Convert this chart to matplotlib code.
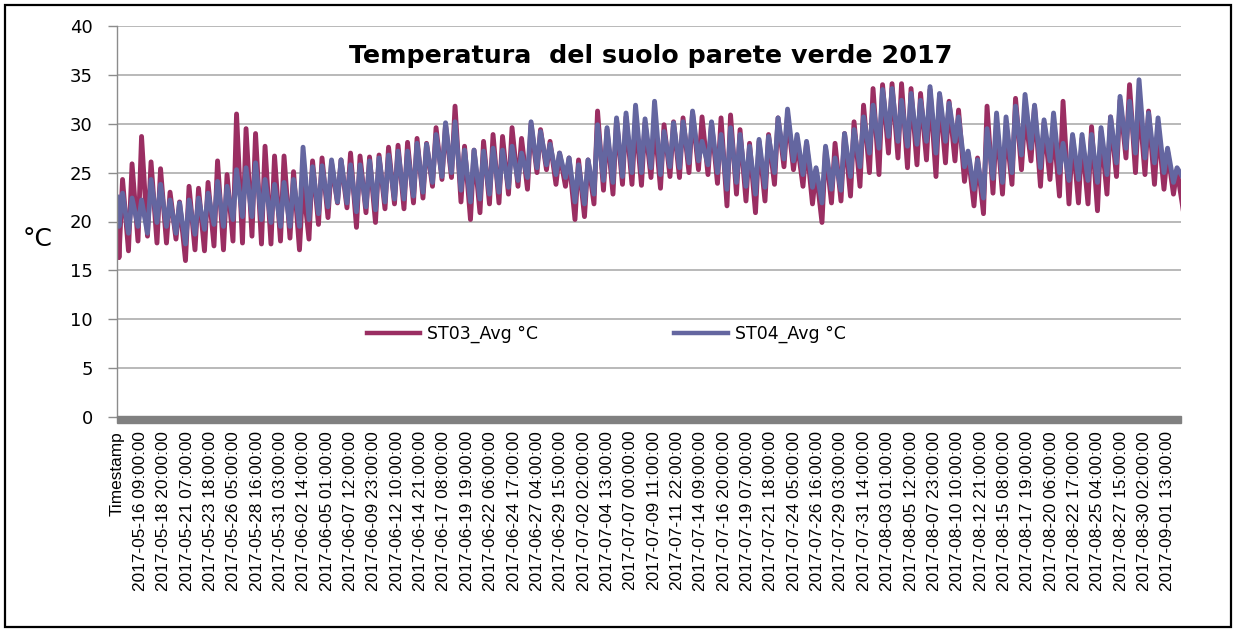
import matplotlib
matplotlib.use("Agg")
import matplotlib.pyplot as plt
from matplotlib.patches import Rectangle
import numpy as np

# ---------------- data (daily extremes) ----------------
ST03_MAX = [24.3, 25.9, 28.7, 26.1, 25.4, 23.0, 22.0, 23.6, 23.4, 24.0,
            26.2, 24.8, 31.0, 29.5, 29.0, 27.7, 26.7, 26.7, 25.1, 24.0,
            26.2, 26.5, 26.0, 26.3, 27.0, 26.7, 26.6, 26.8, 27.6, 27.8,
            28.1, 28.5, 28.0, 29.6, 29.9, 31.8, 27.7, 27.3, 28.2, 28.9,
            28.7, 29.6, 28.5, 30.0, 29.4, 28.2, 27.0, 26.5, 26.3, 26.3,
            31.3, 29.4, 30.4, 30.7, 30.5, 30.1, 30.2, 29.9, 30.2, 30.6,
            31.1, 30.7, 30.1, 30.6, 30.9, 29.4, 28.0, 28.2, 28.9, 30.6,
            30.9, 28.2, 28.0, 25.3, 27.5, 28.0, 29.0, 30.2, 31.9, 33.6,
            34.0, 34.1, 34.1, 33.6, 33.1, 33.5, 33.0, 32.3, 31.4, 27.0,
            26.5, 31.8, 30.2, 29.6, 32.6, 31.1, 31.8, 30.1, 29.6, 32.3,
            28.7, 28.5, 29.7, 29.2, 30.7, 32.4, 34.0, 32.3, 31.3, 29.7,
            27.2, 25.3]
ST03_MIN = [16.3, 17.0, 18.0, 18.5, 17.8, 17.8, 18.2, 16.0, 17.1, 17.0,
            17.5, 17.1, 18.0, 17.8, 18.5, 17.7, 17.7, 18.0, 18.3, 17.1,
            18.2, 19.7, 20.4, 21.9, 21.4, 19.4, 20.9, 19.9, 21.3, 21.8,
            21.3, 21.9, 22.4, 23.6, 24.3, 24.5, 22.0, 20.2, 20.9, 21.8,
            21.9, 22.8, 23.6, 23.3, 25.0, 25.3, 23.8, 23.6, 20.2, 20.5,
            21.8, 23.2, 22.8, 23.8, 23.8, 23.7, 24.5, 23.4, 24.6, 24.5,
            25.0, 25.3, 24.8, 23.9, 21.6, 22.8, 22.1, 20.9, 22.1, 23.8,
            25.6, 25.3, 23.6, 21.8, 19.9, 21.9, 22.1, 22.6, 23.6, 25.0,
            24.8, 27.0, 26.5, 25.5, 25.8, 26.3, 24.6, 26.0, 26.2, 24.1,
            21.6, 20.8, 22.9, 22.8, 23.8, 25.3, 26.2, 23.6, 24.3, 22.6,
            21.8, 21.9, 21.8, 21.1, 22.8, 24.6, 26.5, 25.0, 24.8, 23.8,
            23.3, 22.8, 21.3]
ST04_MAX = [22.9, 22.4, 22.2, 24.3, 23.8, 22.2, 21.9, 22.2, 22.4, 22.9,
            24.1, 23.6, 25.3, 25.5, 26.0, 24.3, 23.8, 24.0, 24.3, 27.6,
            25.6, 25.7, 26.3, 26.3, 25.8, 25.8, 26.2, 26.5, 26.8, 27.2,
            27.2, 28.0, 27.9, 28.9, 30.1, 30.2, 27.3, 27.3, 27.2, 27.5,
            27.3, 27.7, 27.0, 30.2, 29.2, 27.9, 27.0, 26.5, 25.8, 26.3,
            29.9, 29.6, 30.6, 31.1, 31.9, 30.5, 32.3, 29.2, 30.1, 30.2,
            31.3, 28.2, 30.2, 28.9, 29.6, 28.9, 27.7, 28.4, 28.7, 30.6,
            31.5, 28.9, 28.2, 25.5, 27.7, 26.5, 29.0, 29.4, 30.7, 31.9,
            33.5, 33.6, 32.4, 33.1, 32.4, 33.8, 33.1, 32.1, 30.7, 27.2,
            26.3, 29.5, 31.1, 30.7, 31.8, 33.0, 31.9, 30.4, 31.1, 28.0,
            28.9, 28.9, 28.9, 29.6, 30.7, 32.8, 32.3, 34.5, 31.1, 30.6,
            27.5, 25.5]
ST04_MIN = [19.5, 18.8, 19.5, 18.8, 19.9, 19.5, 18.8, 17.7, 18.7, 19.2,
            19.7, 19.5, 20.2, 20.5, 20.5, 20.2, 19.9, 19.5, 19.5, 19.5,
            20.2, 20.8, 21.5, 22.0, 21.9, 21.0, 21.5, 21.2, 22.0, 22.3,
            22.3, 22.6, 23.0, 24.0, 24.6, 25.0, 23.2, 22.0, 22.3, 22.8,
            23.0, 23.5, 24.2, 24.5, 25.5, 25.8, 24.8, 24.5, 22.0, 21.8,
            22.8, 24.2, 24.0, 24.6, 25.0, 25.0, 25.5, 24.8, 25.6, 25.5,
            26.0, 26.2, 25.8, 25.0, 23.3, 24.0, 23.6, 22.8, 23.5, 25.0,
            26.4, 26.2, 24.8, 23.5, 21.9, 23.3, 23.2, 24.6, 25.6, 27.0,
            27.5, 28.7, 28.2, 27.7, 27.9, 28.2, 27.0, 28.2, 28.2, 25.6,
            23.3, 22.4, 24.4, 24.0, 25.0, 26.8, 27.5, 25.5, 26.2, 25.0,
            24.2, 24.3, 24.2, 24.0, 24.8, 26.0, 27.5, 27.0, 26.5, 26.0,
            25.0, 24.0, 24.5]
ST03_START = 21.5
ST04_START = 22.5

TICK_LABELS = ["Timestamp",
    "2017-05-16 09:00:00", "2017-05-18 20:00:00", "2017-05-21 07:00:00",
    "2017-05-23 18:00:00", "2017-05-26 05:00:00", "2017-05-28 16:00:00",
    "2017-05-31 03:00:00", "2017-06-02 14:00:00", "2017-06-05 01:00:00",
    "2017-06-07 12:00:00", "2017-06-09 23:00:00", "2017-06-12 10:00:00",
    "2017-06-14 21:00:00", "2017-06-17 08:00:00", "2017-06-19 19:00:00",
    "2017-06-22 06:00:00", "2017-06-24 17:00:00", "2017-06-27 04:00:00",
    "2017-06-29 15:00:00", "2017-07-02 02:00:00", "2017-07-04 13:00:00",
    "2017-07-07 00:00:00", "2017-07-09 11:00:00", "2017-07-11 22:00:00",
    "2017-07-14 09:00:00", "2017-07-16 20:00:00", "2017-07-19 07:00:00",
    "2017-07-21 18:00:00", "2017-07-24 05:00:00", "2017-07-26 16:00:00",
    "2017-07-29 03:00:00", "2017-07-31 14:00:00", "2017-08-03 01:00:00",
    "2017-08-05 12:00:00", "2017-08-07 23:00:00", "2017-08-10 10:00:00",
    "2017-08-12 21:00:00", "2017-08-15 08:00:00", "2017-08-17 19:00:00",
    "2017-08-20 06:00:00", "2017-08-22 17:00:00", "2017-08-25 04:00:00",
    "2017-08-27 15:00:00", "2017-08-30 02:00:00", "2017-09-01 13:00:00"]
LABEL_STEP = 59          # hourly categories between labels
N_CATEGORIES = 2688

SERIES_NAMES = ["ST03_Avg °C", "ST04_Avg °C"]
TITLE = "Temperatura  del suolo parete verde 2017"


def build(start, mins, maxs):
    t = [1]
    v = [start]
    for d in range(len(maxs)):
        t += [5 + 24 * d, 14 + 24 * d]
        v += [mins[d], maxs[d]]
    for d in range(len(maxs), len(mins)):
        t.append(5 + 24 * d)
        v.append(mins[d])
    return np.array(t), np.array(v)


W, H = 1237, 632
fig = plt.figure(figsize=(W / 100, H / 100), dpi=100)
L, R, T, B = 117, 1181, 26, 417
ax = fig.add_axes([L / W, 1 - B / H, (R - L) / W, (B - T) / H])

RED = "#9A2E62"
BLUE = "#6466A0"
t3, v3 = build(ST03_START, ST03_MIN, ST03_MAX)
t4, v4 = build(ST04_START, ST04_MIN, ST04_MAX)
l3, = ax.plot(t3, v3, color=RED, lw=3.5, solid_joinstyle="round", label=SERIES_NAMES[0])
l4, = ax.plot(t4, v4, color=BLUE, lw=3.5, solid_joinstyle="round", label=SERIES_NAMES[1])

ax.set_xlim(0, N_CATEGORIES)
ax.set_ylim(0, 40)
ax.set_yticks(range(0, 41, 5))
ax.yaxis.grid(True, color="#A6A6A6", lw=1.1)
ax.set_axisbelow(True)
for s in ["top", "right", "bottom"]:
    ax.spines[s].set_visible(False)
ax.spines["left"].set_color("#8C8C8C")
ax.spines["left"].set_linewidth(1.0)
ax.tick_params(axis="y", length=6.5, width=1.0, color="#8C8C8C", pad=11,
               labelsize=13)
for lab in ax.get_yticklabels():
    lab.set_family("DejaVu Sans")

ax.set_xticks([i * LABEL_STEP for i in range(len(TICK_LABELS))])
ax.set_xticklabels(TICK_LABELS, rotation=90, family="Liberation Sans",
                   fontsize=12.4, va="top", ha="center")
ax.tick_params(axis="x", length=0, pad=10)

# thick gray category axis bar
fig.patches.append(Rectangle((L / W, 1 - 423 / H), (R - L) / W, 7 / H,
                             transform=fig.transFigure, color="#808080",
                             zorder=5))

# outer frame
fig.patches.append(Rectangle((5 / W, 1 - 627 / H), 1226 / W, 622 / H,
                             transform=fig.transFigure, fill=False,
                             edgecolor="black", lw=1.6, zorder=10))

fig.text(651 / W, 1 - 56 / H, TITLE, ha="center", va="center",
         fontsize=18.3, fontweight="bold", family="DejaVu Sans")
fig.text(38 / W, 1 - 239 / H, "°C", ha="center", va="center",
         fontsize=18, family="DejaVu Sans")

leg = ax.legend(handles=[l3, l4], ncol=2, loc="center",
                bbox_to_anchor=((606 - L) / (R - L), (B - 334) / (B - T)),
                frameon=False, fontsize=12.5, handlelength=3.1,
                handletextpad=0.4, columnspacing=7.8)
for line in leg.get_lines():
    line.set_linewidth(3.2)

fig.savefig("out.png", dpi=100)
